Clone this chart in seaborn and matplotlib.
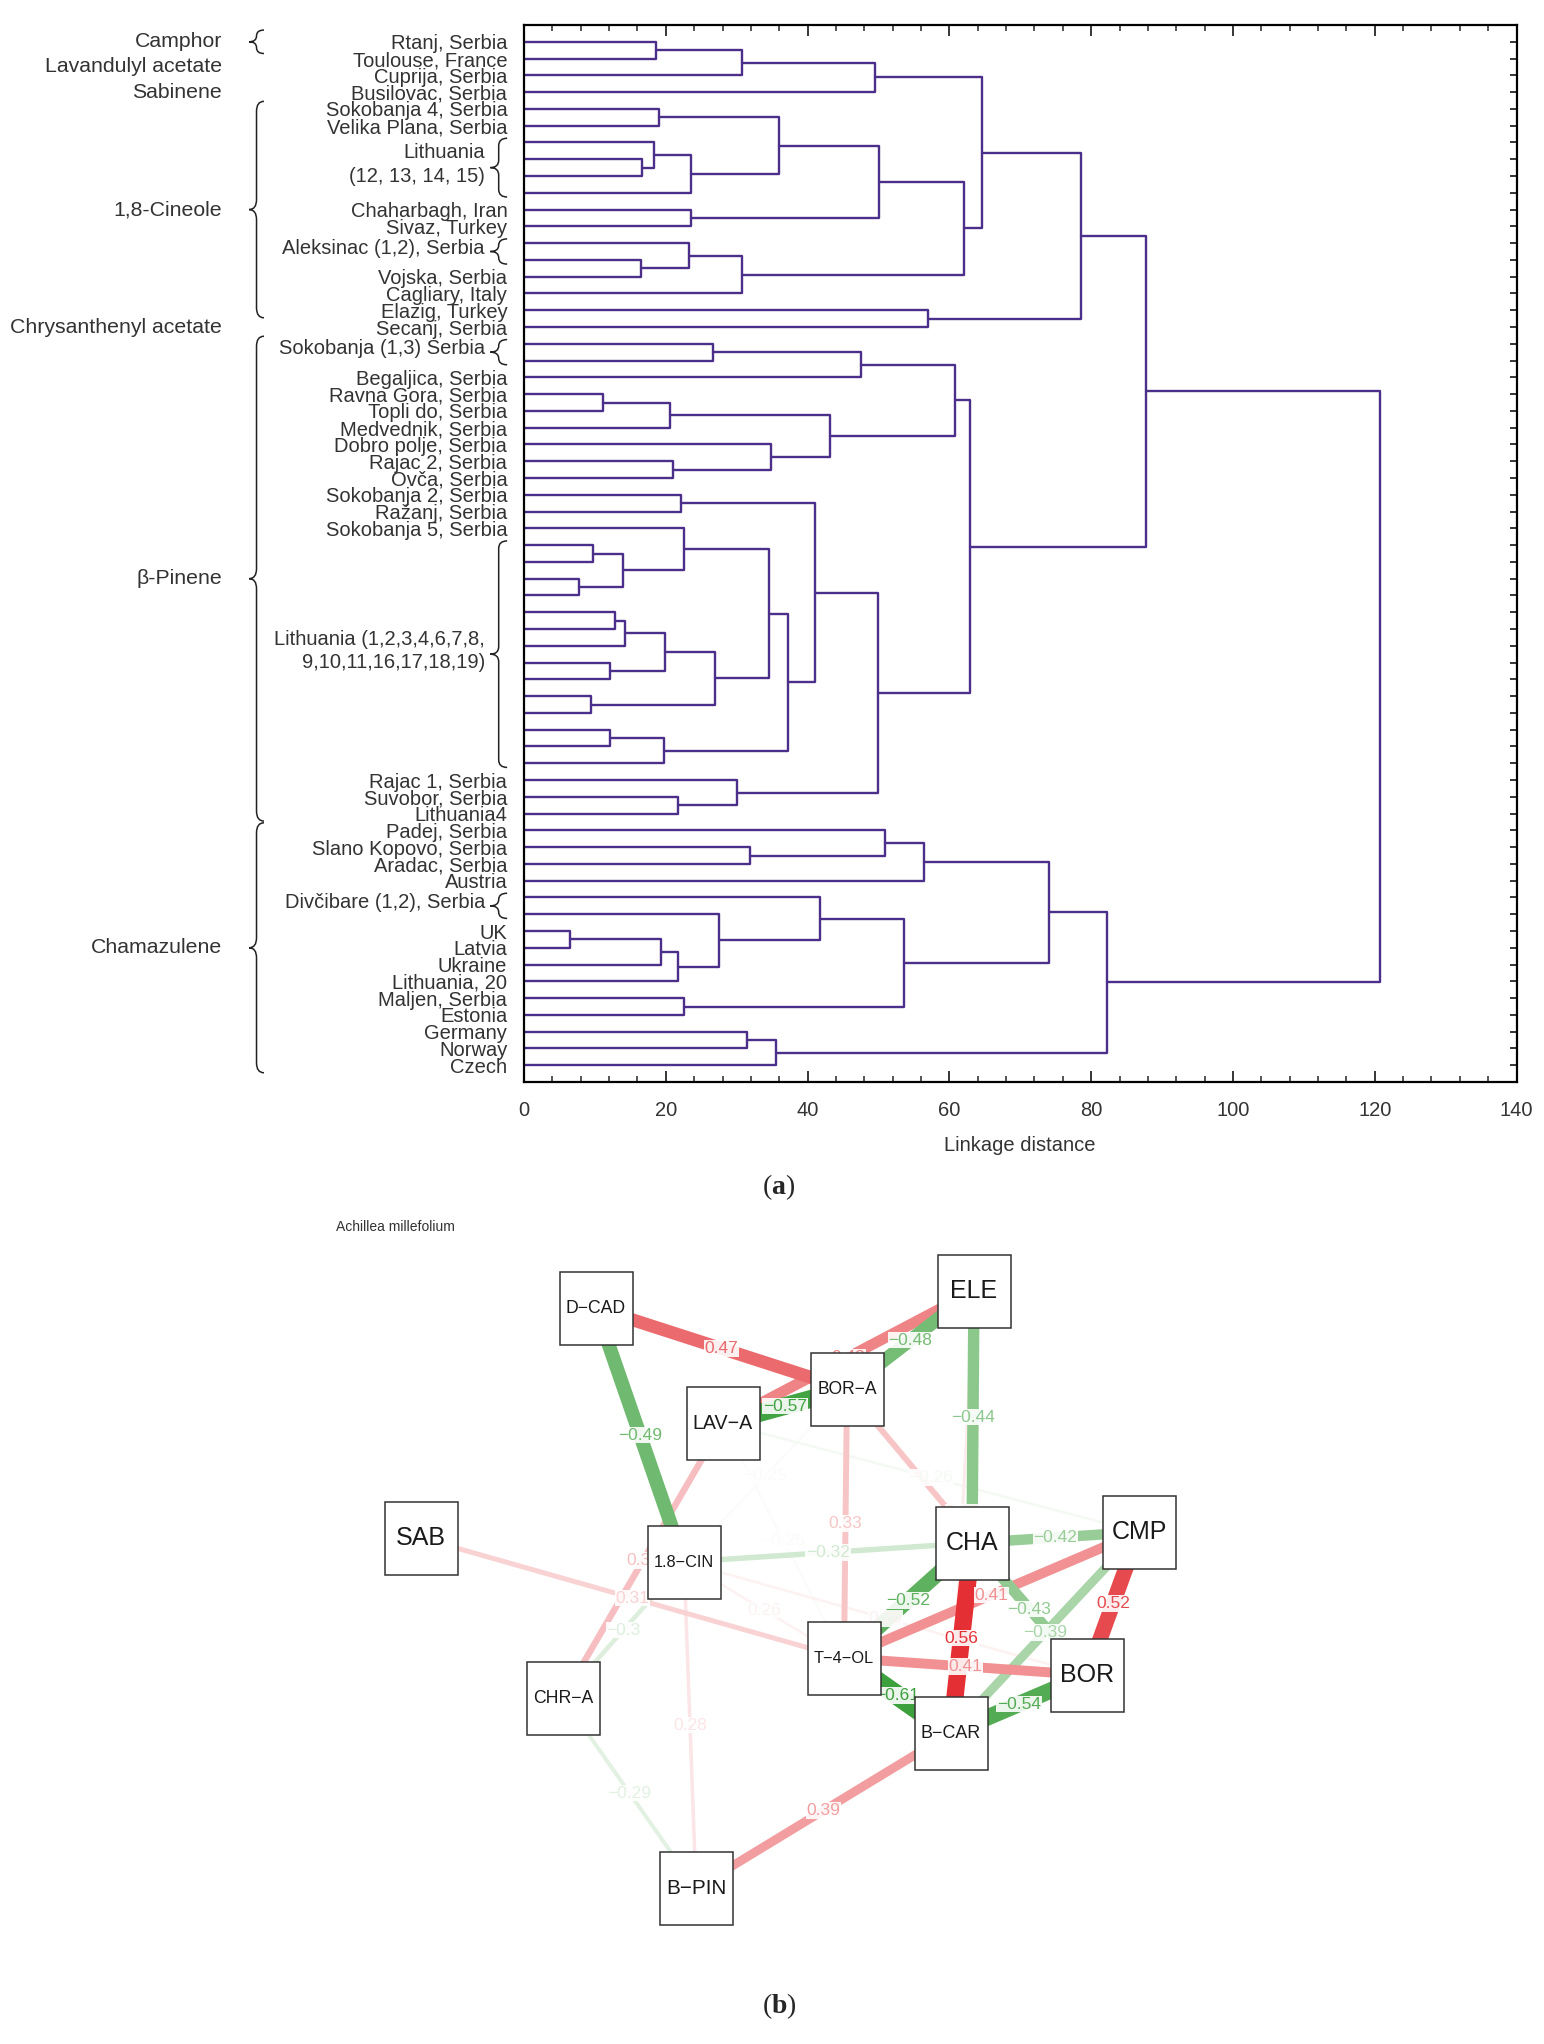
import numpy as np
import pandas as pd
import seaborn as sns
import matplotlib.pyplot as plt
from matplotlib.path import Path
from matplotlib.patches import PathPatch, Rectangle
from matplotlib.ticker import MultipleLocator

# ---- (a) dendrogram data: leaves top to bottom, and the merge height of each gap
leaf_labels = [
    "Rtanj, Serbia", "Toulouse, France", "Cuprija, Serbia", "Busilovac, Serbia",
    "Sokobanja 4, Serbia", "Velika Plana, Serbia", "", "", "", "",
    "Chaharbagh, Iran", "Sivaz, Turkey", "", "", "Vojska, Serbia",
    "Cagliary, Italy", "Elazig, Turkey", "Secanj, Serbia", "", "",
    "Begaljica, Serbia", "Ravna Gora, Serbia", "Topli do, Serbia", "Medvednik, Serbia",
    "Dobro polje, Serbia", "Rajac 2, Serbia", "Ovča, Serbia", "Sokobanja 2, Serbia",
    "Ražanj, Serbia", "Sokobanja 5, Serbia",
    "", "", "", "", "", "", "", "", "", "", "", "", "", "",
    "Rajac 1, Serbia", "Suvobor, Serbia", "Lithuania4", "Padej, Serbia",
    "Slano Kopovo, Serbia", "Aradac, Serbia", "Austria", "", "",
    "UK", "Latvia", "Ukraine", "Lithuania, 20", "Maljen, Serbia", "Estonia",
    "Germany", "Norway", "Czech",
]

gap_heights = [18.6, 30.8, 49.5, 64.6, 19.1, 36.0, 18.3, 16.6, 23.5, 50.1,
               23.5, 62.0, 23.3, 16.5, 30.8, 78.5, 57.0, 87.7, 26.7, 47.5,
               60.8, 11.2, 20.6, 43.1, 34.8, 21.0, 62.9, 22.2, 41.0, 22.6,
               9.7, 13.9, 7.7, 34.5, 12.8, 14.2, 19.9, 12.2, 27.0, 9.4,
               37.2, 12.2, 19.8, 49.9, 30.1, 21.7, 120.8, 50.9, 31.9, 56.4,
               74.1, 41.7, 27.5, 6.5, 19.3, 21.7, 53.6, 22.5, 82.2, 31.4, 35.5]

class_names = ["Camphor", "Lavandulyl acetate", "Sabinene", "1,8-Cineole",
               "Chrysanthenyl acetate", "β-Pinene", "Chamazulene"]
class_first = [1, 2, 4, 5, 18, 19, 48]
class_last = [1, 3, 4, 17, 18, 47, 62]
class_brace = [True, False, False, True, False, True, True]

group_names = ["Lithuania\n(12, 13, 14, 15)", "Aleksinac (1,2), Serbia",
               "Sokobanja (1,3) Serbia",
               "Lithuania (1,2,3,4,6,7,8,\n9,10,11,16,17,18,19)",
               "Divčibare (1,2), Serbia"]
group_first = [7, 13, 19, 31, 52]
group_last = [10, 14, 20, 44, 53]

# ---- (b) correlation network data
node_names = ["D\u2212CAD", "ELE", "BOR\u2212A", "LAV\u2212A", "SAB", "1.8\u2212CIN", "CHA",
              "CMP", "T\u22124\u2212OL", "BOR", "B\u2212CAR", "CHR\u2212A", "B\u2212PIN"]
node_x = [27.6, 65.4, 52.7, 40.3, 10.1, 36.4, 65.2, 81.9, 52.4, 76.7, 63.1, 24.3, 37.6]
node_y = [65.2, 66.9, 57.1, 53.7, 42.2, 39.8, 41.7, 42.8, 30.2, 28.5, 22.7, 26.2, 7.2]

edge_from = [0, 0, 1, 1, 3, 1, 2, 5, 6, 7, 6, 6, 6, 7, 7, 8, 8, 10, 10, 4,
             3, 5, 5, 11, 5, 2, 3, 5, 3, 2, 1]
edge_to = [2, 5, 3, 2, 2, 6, 8, 6, 7, 8, 8, 10, 9, 10, 9, 9, 10, 9, 12, 8,
           11, 11, 12, 12, 8, 5, 8, 9, 7, 9, 10]
edge_w = [0.47, -0.49, 0.43, -0.48, -0.57, -0.44, 0.33, -0.32, -0.42, 0.41,
          -0.52, 0.56, -0.43, -0.39, 0.52, 0.41, -0.61, -0.54, 0.39, 0.31,
          0.34, -0.30, 0.28, -0.29, 0.26, -0.25, -0.25, 0.26, -0.26, 0.33, 0.27]

# ---- build dendrogram segments from the gap heights
rows = []


def build(lo, hi):
    if lo == hi:
        return lo + 1.0, 0.0
    k = lo + int(np.argmax(gap_heights[lo:hi]))
    yl, hl = build(lo, k)
    yr, hr = build(k + 1, hi)
    h = gap_heights[k]
    lid = len(rows) // 4
    for xx, yy in [(hl, yl), (h, yl), (h, yr), (hr, yr)]:
        rows.append({"dist": xx, "leaf": yy, "link": lid})
    return (yl + yr) / 2, h


build(0, len(leaf_labels) - 1)
seg = pd.DataFrame(rows)

sns.set_style("ticks")
plt.rcParams["font.family"] = ["Liberation Sans", "DejaVu Sans"]
plt.rcParams["mathtext.fontset"] = "custom"
plt.rcParams["mathtext.bf"] = "Liberation Serif:bold"
plt.rcParams["mathtext.rm"] = "Liberation Serif"

W, H = 1544, 2044
fig = plt.figure(figsize=(W / 100, H / 100), dpi=100)
fig.patch.set_facecolor("white")

ax = fig.add_axes([524 / W, 1 - 1082 / H, 992.5 / W, 1057 / H])
sns.lineplot(data=seg, x="dist", y="leaf", units="link", estimator=None, sort=False,
             color="#4c2f8a", linewidth=1.7, ax=ax)
ax.set_xlim(0, 140)
ax.set_ylim(63, 0)
ax.set_ylabel("")
ax.set_xlabel("Linkage distance", fontsize=14.5, color="#333333", labelpad=11)
ax.xaxis.set_major_locator(MultipleLocator(20))
ax.xaxis.set_minor_locator(MultipleLocator(4))
ax.set_yticks(np.arange(1, len(leaf_labels) + 1))
ax.set_yticklabels(leaf_labels, fontsize=14.5, color="#333333")
ax.tick_params(axis="x", which="major", direction="in", length=8, width=1.3,
               top=True, bottom=True, pad=14, labelsize=14.5, labelcolor="#333333")
ax.tick_params(axis="x", which="minor", direction="in", length=4, width=1.1,
               top=True, bottom=True)
ax.tick_params(axis="y", which="major", direction="in", length=5, width=1.3,
               left=True, right=True, pad=12)
for sp in ax.spines.values():
    sp.set_visible(True)
    sp.set_linewidth(1.6)
    sp.set_color("black")

ytr = ax.get_yaxis_transform()


def brace(y0, y1, x_tip, x_end, r):
    xs = (x_tip + x_end) / 2
    ym = (y0 + y1) / 2
    verts = [(x_end, y0), (xs, y0), (xs, y0 + r), (xs, ym - r), (xs, ym), (x_tip, ym),
             (xs, ym), (xs, ym + r), (xs, y1 - r), (xs, y1), (x_end, y1)]
    codes = [Path.MOVETO, Path.CURVE3, Path.CURVE3, Path.LINETO, Path.CURVE3, Path.CURVE3,
             Path.CURVE3, Path.CURVE3, Path.LINETO, Path.CURVE3, Path.CURVE3]
    ax.add_patch(PathPatch(Path(verts, codes), transform=ytr, fill=False,
                           edgecolor="#222222", linewidth=1.1, clip_on=False))


for name, a, b, br in zip(class_names, class_first, class_last, class_brace):
    ax.text(-0.304, (a + b) / 2, name, transform=ytr, ha="right", va="center",
            fontsize=15.3, color="#333333")
    if br:
        y0, y1 = a - 0.45, b + 0.45
        if b == a:
            y0, y1 = a - 0.7, b + 0.7
        brace(y0, y1, -0.277, -0.262, min(0.6, (y1 - y0) / 4))

for name, a, b in zip(group_names, group_first, group_last):
    ax.text(-0.0393, (a + b) / 2 - 0.2, name, transform=ytr, ha="right", va="center",
            multialignment="right", fontsize=14.5, color="#333333", linespacing=1.3)
    brace(a - 0.25, b + 0.25, -0.034, -0.017, min(0.45, (b - a + 0.5) / 4))

fig.text(779 / W, 1 - 1187 / H, r"($\mathbf{a}$)", ha="center", va="center",
         fontsize=20, family="Liberation Serif")

# ---- (b) network
ax2 = fig.add_axes([320 / W, 84 / H, 880 / W, 760 / H])
ax2.set_xlim(0, 88)
ax2.set_ylim(0, 76)
ax2.axis("off")
ax2.text(0.018, 0.964, "Achillea millefolium", transform=ax2.transAxes, fontsize=10,
         color="#333333", ha="left", va="center")

red = np.array([226, 35, 40]) / 255
green = np.array([60, 160, 60]) / 255
white = np.ones(3)

order = np.argsort(np.abs(edge_w))
for i in order:
    w = edge_w[i]
    t = float(np.clip((abs(w) - 0.24) / 0.34, 0.03, 1.0))
    base = red if w > 0 else green
    col = tuple(base * t + white * (1 - t))
    lw = max(1.4, 1.15 * (43 * abs(w) - 9)) * 0.72
    a, b = edge_from[i], edge_to[i]
    ax2.plot([node_x[a], node_x[b]], [node_y[a], node_y[b]], color=col, lw=lw,
             solid_capstyle="round", zorder=1)
    lab = f"{round(w, 2):g}".replace("-", "\u2212")
    ax2.text((node_x[a] + node_x[b]) / 2, (node_y[a] + node_y[b]) / 2, lab,
             color=col, fontsize=12.5, ha="center", va="center", zorder=1.5,
             bbox=dict(facecolor="white", edgecolor="none", pad=0.5, alpha=0.9))

side = 7.3
renderer = fig.canvas.get_renderer()
for name, x, y in zip(node_names, node_x, node_y):
    ax2.add_patch(Rectangle((x - side / 2, y - side / 2), side, side, facecolor="white",
                            edgecolor="#333333", linewidth=1.1, zorder=2))
    txt = ax2.text(x, y, name, fontsize=18, ha="center", va="center", color="#1a1a1a",
                   zorder=3)
    wpx = txt.get_window_extent(renderer).width
    if wpx > 60:
        txt.set_fontsize(18 * 60 / wpx)

fig.text(779 / W, 1 - 2006 / H, r"($\mathbf{b}$)", ha="center", va="center",
         fontsize=20, family="Liberation Serif")

fig.savefig("out.png", dpi=100, facecolor="white")
